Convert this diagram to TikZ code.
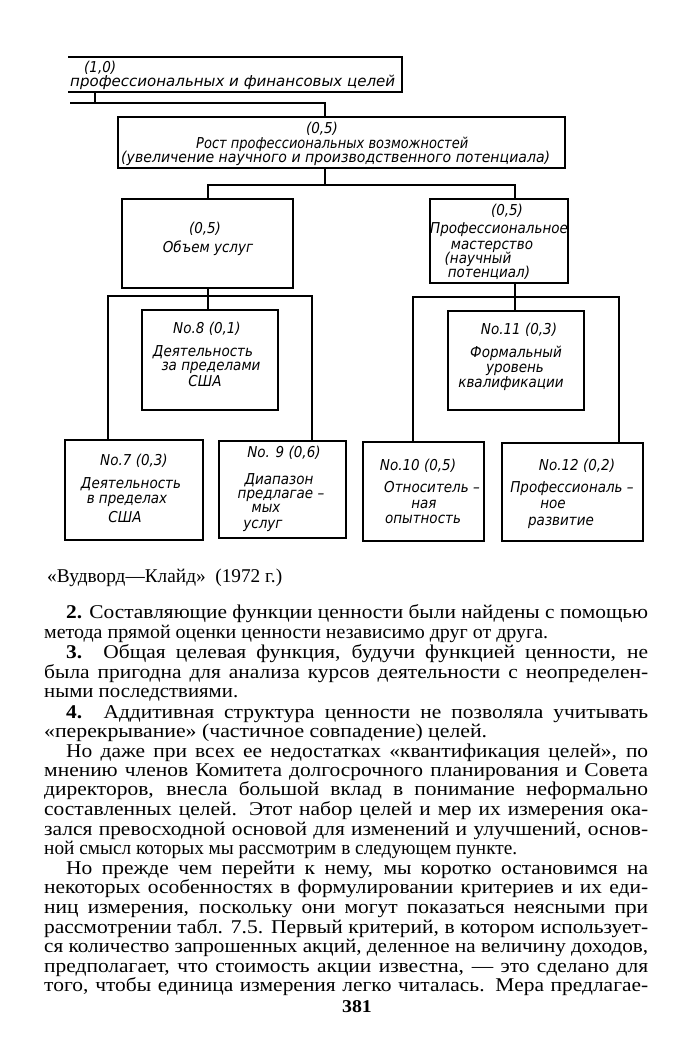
\documentclass[tikz,border=0pt]{standalone}
\usepackage{fontspec}
\setmainfont{Liberation Serif}[FakeStretch=1.1]
\newfontfamily\dfont{DejaVu Sans}[FakeStretch=0.9]
\usepackage{graphicx}
\newlength\tmpw
\newcommand\fitw[2]{\settowidth\tmpw{#2}\edef\sc{\fpeval{(#1)/\tmpw}}\scalebox{\sc}[1]{#2}}
\newcommand\jline[2]{\settowidth\tmpw{#2}\edef\tw{\fpeval{#1}}\ifdim\tmpw>\tw pt\relax\edef\sc{\fpeval{\tw/\tmpw}}\scalebox{\sc}[1]{#2}\else\makebox[\tw pt][s]{#2}\fi}
\tikzset{
  box/.style={draw, line width=1.1pt, inner sep=0pt, outer sep=0pt, anchor=north west},
  wire/.style={line width=1.1pt},
  dtxt/.style={anchor=base, inner sep=0pt, font=\dfont\itshape\fontsize{15}{17}\selectfont},
  btxt/.style={anchor=base west, inner sep=0pt, font=\fontsize{19.5}{22}\selectfont}
}
\newcommand\boxat[5]{\node[box, minimum width={(#4-#2)*1pt}, minimum height={(#5-#3)*1pt}] (#1) at (#2,#3) {};}
% centred diagram text: name, centre x, centre y, text
\newcommand\ctext[4]{\node[dtxt] (#1) at (#2,#3+5) {#4};}
% fitted diagram text: name, left x, right x, centre y, text
\newcommand\dtext[5]{\node[dtxt, anchor=base west] (#1) at (#2,#4+5) {\fitw{#3-#2}{#5}};}
\newcommand\jtext[5]{\node[btxt] (#1) at (#2,#3+5) {\jline{#4-#2}{#5}};}
\newcommand\rtext[5]{\node[btxt] (#1) at (#2,#3+5) {\fitw{#4-#2}{#5}};}
\begin{document}
\begin{tikzpicture}[x=1pt, y=-1pt]
\useasboundingbox[fill=white] (0,0) rectangle (700,1060);
% ---------- boxes ----------
\node[anchor=north west, inner sep=0pt, outer sep=0pt, minimum width=334pt, minimum height=35pt] (b1) at (68,57) {};
\draw[wire] (b1.north west) -- (b1.north east) -- (b1.south east) -- (b1.south west);
\boxat{b2}{118}{117}{565}{168}
\boxat{b3}{122}{199}{293}{288}
\boxat{b4}{430}{199}{568}{283}
\boxat{b8}{142}{310}{278}{410}
\boxat{b11}{448}{311}{584}{410}
\boxat{b7}{65}{440}{203}{540}
\boxat{b9}{219}{441}{346}{538}
\boxat{b10}{363}{442}{484}{541}
\boxat{b12}{502}{443}{643}{541}
% ---------- connectors ----------
\coordinate (j1) at (95,103);
\coordinate (bus1) at (70,103);
\coordinate (k1) at (325,103);
\draw[wire] (j1 |- b1.south) -- (j1);
\draw[wire] (bus1) -- (k1) -- (k1 |- b2.north);
\coordinate (k2) at (325,185);
\coordinate (k2L) at (208,185);
\coordinate (k2R) at (515,185);
\draw[wire] (k2 |- b2.south) -- (k2);
\draw[wire] (k2L |- b3.north) -- (k2L) -- (k2R) -- (k2R |- b4.north);
\coordinate (k3) at (208,296);
\coordinate (k3L) at (108,296);
\coordinate (k3R) at (312,296);
\draw[wire] (k3 |- b3.south) -- (k3 |- b8.north);
\draw[wire] (k3L |- b7.north) -- (k3L) -- (k3R) -- (k3R |- b9.north);
\coordinate (k4) at (515,297);
\coordinate (k4L) at (413,297);
\coordinate (k4R) at (619,297);
\draw[wire] (k4 |- b4.south) -- (k4 |- b11.north);
\draw[wire] (k4L |- b10.north) -- (k4L) -- (k4R) -- (k4R |- b12.north);
% ---------- diagram texts ----------
\node[dtxt, anchor=base west] (t1a) at (84,72) {(1,0)};
\dtext{t1b}{70}{395}{81}{профессиональных и финансовых целей}
\ctext{t2a}{322}{128}{(0,5)}
\dtext{t2b}{196}{468}{143}{Рост профессиональных возможностей}
\dtext{t2c}{121}{550}{157}{(увеличение научного и производственного потенциала)}
\ctext{t3a}{205}{228}{(0,5)}
\ctext{t3b}{208}{247}{Объем услуг}
\ctext{t4a}{507}{210}{(0,5)}
\ctext{t4b}{499}{228}{Профессиональное}
\ctext{t4c}{492}{244}{мастерство}
\ctext{t4d}{478}{258}{(научный}
\ctext{t4e}{489}{272}{потенциал)}
\ctext{t8a}{207}{328}{No.8 (0,1)}
\ctext{t8b}{203}{351}{Деятельность}
\ctext{t8c}{211}{365}{за пределами}
\ctext{t8d}{205}{381}{США}
\ctext{t11a}{519}{329}{No.11 (0,3)}
\ctext{t11b}{516}{352}{Формальный}
\ctext{t11c}{515}{367}{уровень}
\ctext{t11d}{511}{382}{квалификации}
\ctext{t7a}{134}{460}{No.7 (0,3)}
\ctext{t7b}{131}{483}{Деятельность}
\ctext{t7c}{127}{498}{в пределах}
\ctext{t7d}{125}{517}{США}
\ctext{t9a}{284}{452}{No. 9 (0,6)}
\ctext{t9b}{279}{479}{Диапазон}
\ctext{t9c}{281}{493}{предлагае –}
\ctext{t9d}{266}{507}{мых}
\ctext{t9e}{263}{523}{услуг}
\ctext{t10a}{418}{465}{No.10 (0,5)}
\ctext{t10b}{432}{487}{Относитель –}
\ctext{t10c}{424}{503}{ная}
\ctext{t10d}{423}{518}{опытность}
\ctext{t12a}{577}{465}{No.12 (0,2)}
\ctext{t12b}{572}{487}{Профессиональ –}
\ctext{t12c}{553}{503}{ное}
\ctext{t12d}{561}{520}{развитие}
% ---------- body text ----------
\rtext{cap}{47}{577}{282}{«Вудворд—Клайд» \ (1972 г.)}
\jtext{l1}{66}{613}{648}{\textbf{2.} Составляющие функции ценности были найдены с помощью}
\rtext{l2}{44}{633}{548}{метода прямой оценки ценности независимо друг от друга.}
\jtext{l3}{66}{653}{648}{\textbf{3.} Общая целевая функция, будучи функцией ценности, не}
\jtext{l4}{44}{673}{648}{была пригодна для анализа курсов деятельности с неопределен-}
\rtext{l5}{44}{692}{238}{ными последствиями.}
\jtext{l6}{66}{713}{648}{\textbf{4.} Аддитивная структура ценности не позволяла учитывать}
\rtext{l7}{44}{732}{487}{«перекрывание» (частичное совпадение) целей.}
\jtext{l8}{66}{752}{648}{Но даже при всех ее недостатках «квантификация целей», по}
\jtext{l9}{44}{771}{648}{мнению членов Комитета долгосрочного планирования и Совета}
\jtext{l10}{44}{790}{648}{директоров, внесла большой вклад в понимание неформально}
\jtext{l11}{44}{810}{648}{составленных целей. Этот набор целей и мер их измерения ока-}
\jtext{l12}{44}{830}{648}{зался превосходной основой для изменений и улучшений, основ-}
\rtext{l13}{44}{849}{517}{ной смысл которых мы рассмотрим в следующем пункте.}
\jtext{l14}{66}{869}{648}{Но прежде чем перейти к нему, мы коротко остановимся на}
\jtext{l15}{44}{888}{648}{некоторых особенностях в формулировании критериев и их еди-}
\jtext{l16}{44}{908}{648}{ниц измерения, поскольку они могут показаться неясными при}
\jtext{l17}{44}{928}{648}{рассмотрении табл. 7.5. Первый критерий, в котором использует-}
\jtext{l18}{44}{947}{648}{ся количество запрошенных акций, деленное на величину доходов,}
\jtext{l19}{44}{967}{648}{предполагает, что стоимость акции известна, — это сделано для}
\jtext{l20}{44}{986}{648}{того, чтобы единица измерения легко читалась. Мера предлагае-}
\node[btxt, anchor=base, font=\fontsize{18}{20}\selectfont] (pg) at (357,1012) {\textbf{381}};
\end{tikzpicture}
\end{document}
